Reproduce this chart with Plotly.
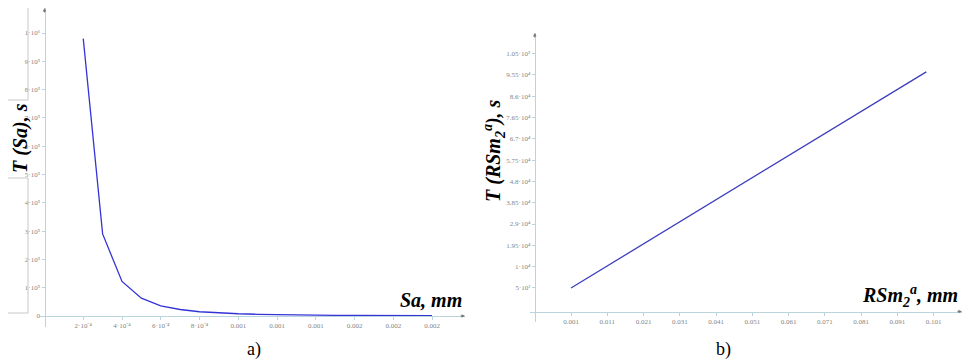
import plotly.graph_objects as go

# ---------------- data ----------------
sa_mm = [0.0002, 0.0003, 0.0004, 0.0005, 0.0006, 0.0007, 0.0008, 0.0009, 0.0010,
         0.0011, 0.0012, 0.0013, 0.0014, 0.0015, 0.0016, 0.0017, 0.0018, 0.0019, 0.0020]
t_sa_s = [980000, 290000, 122000, 63000, 36000, 23000, 15000, 11000, 8000,
          6000, 4500, 3600, 2900, 2300, 1900, 1600, 1300, 1100, 1000]

rsm_mm = [0.001, 0.099]
t_rsm_s = [500, 96800]

left_xtick_vals = [0.0002, 0.0004, 0.0006, 0.0008, 0.0010, 0.0012, 0.0014, 0.0016, 0.0018, 0.0020]
left_xtick_text = ["2·10⁻⁴", "4·10⁻⁴", "6·10⁻⁴", "8·10⁻⁴", "0.001", "0.001", "0.001", "0.002", "0.002", "0.002"]
left_ytick_vals = [0, 100000, 200000, 300000, 400000, 500000, 600000, 700000, 800000, 900000, 1000000]
left_ytick_text = ["0", "1·10⁵", "2·10⁵", "3·10⁵", "4·10⁵", "5·10⁵", "6·10⁵", "7·10⁵", "8·10⁵", "9·10⁵", "1·10⁶"]

right_xtick_vals = [0.001, 0.011, 0.021, 0.031, 0.041, 0.051, 0.061, 0.071, 0.081, 0.091, 0.101]
right_xtick_text = ["0.001", "0.011", "0.021", "0.031", "0.041", "0.051", "0.061", "0.071", "0.081", "0.091", "0.101"]
right_ytick_vals = [500, 10000, 19500, 29000, 38500, 48000, 57500, 67000, 76500, 86000, 95500, 105000]
right_ytick_text = ["5·10²", "1·10⁴", "1.95·10⁴", "2.9·10⁴", "3.85·10⁴", "4.8·10⁴", "5.75·10⁴",
                    "6.7·10⁴", "7.65·10⁴", "8.6·10⁴", "9.55·10⁴", "1.05·10⁵"]

# ---------------- layout helpers ----------------
# the page body has an 8px margin, so the figure is offset by 8px inside the window
OFF = 8
WIN_W, WIN_H = 970, 362
W, H = WIN_W - OFF, WIN_H - OFF
def fx(px): return (px - OFF) / W
def fy(py): return 1 - (py - OFF) / H

AX_COL = "#b9d3df"
TICK_FONT = dict(family="Liberation Serif", size=7, color="#858585")
LINE_COL = "#3434d6"

# left panel geometry (window pixels)
L_x0px, L_xscale = 44.5, 193750.0      # pixel of x=0, px per unit
L_y0px, L_yscale = 316.0, 2.83e-4      # pixel of y=0, px per unit
L_dom_x = (40, 465)
L_dom_y = (327, 8)
L_xrange = [(L_dom_x[0] - L_x0px) / L_xscale, (L_dom_x[1] - L_x0px) / L_xscale]
L_yrange = [(L_y0px - L_dom_y[0]) / L_yscale, (L_y0px - L_dom_y[1]) / L_yscale]

# right panel geometry (window pixels)
R_x0px, R_xscale = 567.4, 3625.0
R_y0px, R_yscale = 289.1, 0.002244
R_dom_x = (530, 962)
R_dom_y = (322, 33)
R_xrange = [(R_dom_x[0] - R_x0px) / R_xscale, (R_dom_x[1] - R_x0px) / R_xscale]
R_yrange = [(R_y0px - R_dom_y[0]) / R_yscale, (R_y0px - R_dom_y[1]) / R_yscale]
R_xcross = -0.009     # value where y-axis crosses x
R_ycross = -10000     # value where x-axis crosses y

def pos(v, rng, dom):
    return dom[0] + (v - rng[0]) / (rng[1] - rng[0]) * (dom[1] - dom[0])

Ldx = [fx(L_dom_x[0]), fx(L_dom_x[1])]
Ldy = [fy(L_dom_y[0]), fy(L_dom_y[1])]
Rdx = [fx(R_dom_x[0]), fx(R_dom_x[1])]
Rdy = [fy(R_dom_y[0]), fy(R_dom_y[1])]

fig = go.Figure()
fig.add_trace(go.Scatter(x=sa_mm, y=t_sa_s, mode="lines", xaxis="x", yaxis="y",
                         line=dict(color=LINE_COL, width=1.3), showlegend=False))
fig.add_trace(go.Scatter(x=rsm_mm, y=t_rsm_s, mode="lines", xaxis="x2", yaxis="y2",
                         line=dict(color="#3e3ebc", width=1.3), showlegend=False))

common = dict(showgrid=False, zeroline=False, showline=True, linecolor=AX_COL, linewidth=1,
              ticks="outside", ticklen=3, tickcolor=AX_COL, tickfont=TICK_FONT, tickmode="array",
              anchor="free", automargin=False)

fig.update_layout(
    width=W, height=H, margin=dict(l=0, r=0, t=0, b=0, autoexpand=False),
    paper_bgcolor="white", plot_bgcolor="rgba(0,0,0,0)",
    xaxis=dict(common, domain=Ldx, range=L_xrange, tickvals=left_xtick_vals, ticktext=left_xtick_text,
               position=pos(0, L_yrange, Ldy)),
    yaxis=dict(common, domain=Ldy, range=L_yrange, tickvals=left_ytick_vals, ticktext=left_ytick_text,
               position=pos(0, L_xrange, Ldx)),
    xaxis2=dict(common, domain=Rdx, range=R_xrange, tickvals=right_xtick_vals, ticktext=right_xtick_text,
                position=pos(R_ycross, R_yrange, Rdy)),
    yaxis2=dict(common, domain=Rdy, range=R_yrange, tickvals=right_ytick_vals, ticktext=right_ytick_text,
                position=pos(R_xcross, R_xrange, Rdx)),
)

ann = []
# axis arrowheads
def arrow(x, y, xref, yref, ax, ay):
    return dict(x=x, y=y, xref=xref, yref=yref, ax=ax, ay=ay, axref="pixel", ayref="pixel",
                text="", showarrow=True, arrowhead=2, arrowsize=0.7, arrowwidth=1, arrowcolor="#777777")
ann.append(arrow(L_xrange[1], 0, "x", "y", -6, 0))
ann.append(arrow(0, L_yrange[1], "x", "y", 0, 6))
ann.append(arrow(R_xrange[1], R_ycross, "x2", "y2", -6, 0))
ann.append(arrow(R_xcross, R_yrange[1], "x2", "y2", 0, 6))

TF = dict(family="Liberation Serif", size=20, color="black")
ann.append(dict(text="<b><i>T (Sa), s</i></b>", x=fx(20), y=fy(138), xref="paper", yref="paper",
                showarrow=False, textangle=-90, font=TF, xanchor="center", yanchor="middle"))
ann.append(dict(text="<b><i>Sa, mm</i></b>", x=fx(431), y=fy(300), xref="paper", yref="paper",
                showarrow=False, font=TF, xanchor="center", yanchor="middle"))
ann.append(dict(text="<b><i>T (RSm<sub>2</sub><sup>a</sup>), s</i></b>", x=fx(494), y=fy(151),
                xref="paper", yref="paper", showarrow=False, textangle=-90, font=TF,
                xanchor="center", yanchor="middle"))
ann.append(dict(text="<b><i>RSm<sub>2</sub><sup>a</sup>, mm</i></b>", x=fx(960), y=fy(296),
                xref="paper", yref="paper", showarrow=False, font=TF, xanchor="right", yanchor="middle"))
CF = dict(family="Liberation Serif", size=18, color="black")
ann.append(dict(text="a)", x=fx(254), y=fy(349), xref="paper", yref="paper", showarrow=False, font=CF,
                xanchor="center", yanchor="middle"))
ann.append(dict(text="b)", x=fx(723), y=fy(349), xref="paper", yref="paper", showarrow=False, font=CF,
                xanchor="center", yanchor="middle"))
fig.update_layout(annotations=ann)

# faint frame lines around the left axis label (picture border)
FR = dict(color="#c8c8c8", width=1)
shapes = [
    dict(type="line", xref="paper", yref="paper", x0=fx(28), x1=fx(28), y0=fy(8), y1=fy(100), line=FR),
    dict(type="line", xref="paper", yref="paper", x0=fx(8), x1=fx(28), y0=fy(100), y1=fy(100), line=FR),
    dict(type="line", xref="paper", yref="paper", x0=fx(8), x1=fx(28), y0=fy(178), y1=fy(178), line=FR),
    dict(type="line", xref="paper", yref="paper", x0=fx(28), x1=fx(28), y0=fy(178), y1=fy(313), line=FR),
    dict(type="line", xref="paper", yref="paper", x0=fx(8), x1=fx(28), y0=fy(313), y1=fy(313), line=FR),
]
fig.update_layout(shapes=shapes)

fig.write_html("out.html")
